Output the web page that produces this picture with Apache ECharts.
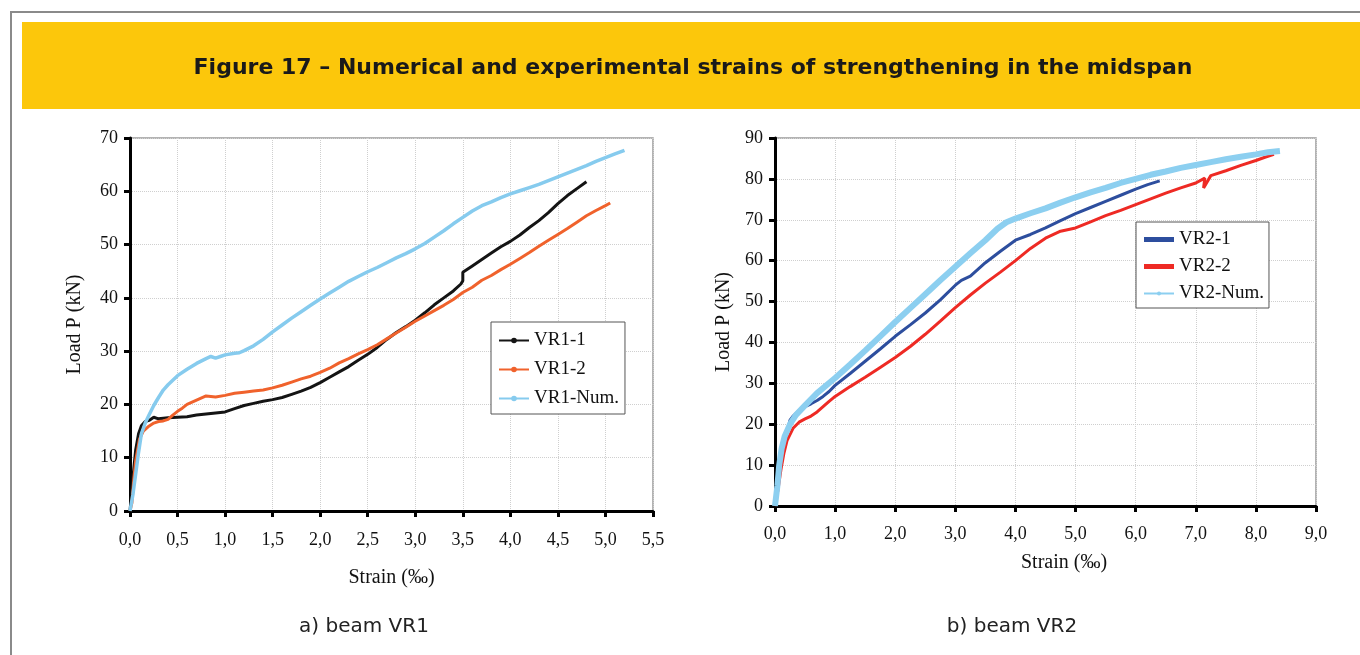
<!DOCTYPE html>
<html>
<head>
<meta charset="utf-8">
<script src="https://cdn.jsdelivr.net/npm/echarts@6/dist/echarts.min.js"></script>
<style>html,body{margin:0;padding:0;background:#fff;}#c{width:1360px;height:655px;}</style>
</head>
<body>
<div id="c"></div>
<script>
// ---------- DATA ----------
const titleText = 'Figure 17 – Numerical and experimental strains of strengthening in the midspan';
const subA = 'a) beam VR1';
const subB = 'b) beam VR2';
const xTicksA = ['0,0','0,5','1,0','1,5','2,0','2,5','3,0','3,5','4,0','4,5','5,0','5,5'];
const xTicksB = ['0,0','1,0','2,0','3,0','4,0','5,0','6,0','7,0','8,0','9,0'];
const seriesNamesA = ['VR1-1','VR1-2','VR1-Num.'];
const seriesNamesB = ['VR2-1','VR2-2','VR2-Num.'];

const vr1_1 = [[0,0],[0.02,4],[0.04,8],[0.06,11.5],[0.09,14.5],[0.12,16],[0.16,16.8],[0.2,17],[0.25,17.6],[0.3,17.3],[0.4,17.5],[0.5,17.6],[0.6,17.7],[0.7,18],[0.8,18.2],[0.9,18.4],[1.0,18.6],[1.1,19.2],[1.2,19.8],[1.3,20.2],[1.4,20.6],[1.5,20.9],[1.6,21.3],[1.7,21.9],[1.8,22.5],[1.9,23.2],[2.0,24.1],[2.1,25.1],[2.2,26.1],[2.3,27.1],[2.4,28.3],[2.5,29.4],[2.6,30.7],[2.7,32.2],[2.8,33.5],[2.9,34.6],[3.0,35.8],[3.1,37.2],[3.2,38.7],[3.3,40.0],[3.4,41.3],[3.48,42.6],[3.5,43.2],[3.5,44.8],[3.6,46],[3.7,47.2],[3.8,48.4],[3.9,49.6],[4.0,50.6],[4.1,51.8],[4.2,53.2],[4.3,54.5],[4.4,56],[4.5,57.7],[4.6,59.2],[4.7,60.5],[4.8,61.8]];
const vr1_2 = [[0,0],[0.02,1.5],[0.04,6],[0.06,9.5],[0.08,11.5],[0.1,13.5],[0.14,15],[0.19,15.8],[0.25,16.5],[0.3,16.8],[0.35,16.9],[0.4,17.2],[0.45,18],[0.5,18.7],[0.55,19.3],[0.6,20],[0.7,20.8],[0.8,21.6],[0.9,21.4],[1.0,21.7],[1.1,22.1],[1.2,22.3],[1.3,22.5],[1.4,22.7],[1.5,23.1],[1.6,23.6],[1.7,24.2],[1.8,24.8],[1.9,25.3],[2.0,26],[2.1,26.8],[2.2,27.8],[2.3,28.6],[2.4,29.5],[2.5,30.3],[2.6,31.2],[2.7,32.3],[2.8,33.4],[2.9,34.5],[3.0,35.6],[3.1,36.6],[3.2,37.6],[3.3,38.6],[3.4,39.7],[3.5,41.0],[3.6,42],[3.7,43.3],[3.8,44.2],[3.9,45.3],[4.0,46.3],[4.1,47.4],[4.2,48.5],[4.3,49.7],[4.4,50.8],[4.5,51.9],[4.6,53],[4.7,54.2],[4.8,55.4],[4.9,56.4],[5.0,57.3],[5.05,57.8]];
const vr1_num = [[0,0],[0.03,3],[0.06,7],[0.09,11],[0.12,14.5],[0.16,16.5],[0.2,18],[0.25,19.8],[0.3,21.3],[0.35,22.7],[0.4,23.7],[0.5,25.4],[0.6,26.6],[0.7,27.7],[0.8,28.6],[0.85,29],[0.9,28.7],[0.95,29],[1.0,29.3],[1.1,29.6],[1.15,29.7],[1.2,30.1],[1.3,31],[1.4,32.2],[1.5,33.6],[1.6,34.9],[1.7,36.2],[1.8,37.4],[1.9,38.6],[2.0,39.8],[2.1,40.9],[2.2,42],[2.3,43.1],[2.4,44],[2.5,44.9],[2.6,45.7],[2.7,46.6],[2.8,47.5],[2.9,48.3],[3.0,49.2],[3.1,50.2],[3.2,51.4],[3.3,52.6],[3.4,53.9],[3.5,55.1],[3.6,56.3],[3.7,57.3],[3.8,58],[3.9,58.8],[4.0,59.5],[4.1,60.1],[4.2,60.7],[4.3,61.3],[4.4,62],[4.5,62.7],[4.6,63.4],[4.7,64.1],[4.8,64.8],[4.9,65.6],[5.0,66.3],[5.1,67],[5.2,67.7]];

const vr2_1 = [[0,0],[0.05,5],[0.09,10],[0.14,14],[0.2,18],[0.25,21],[0.3,22],[0.4,23.3],[0.5,24.3],[0.6,25],[0.7,25.8],[0.8,26.8],[0.9,28],[1.0,29.5],[1.25,32.4],[1.5,35.4],[1.75,38.4],[2.0,41.5],[2.25,44.3],[2.5,47.2],[2.75,50.4],[3.0,54],[3.1,55.2],[3.25,56.2],[3.5,59.5],[3.75,62.3],[4.0,65],[4.25,66.4],[4.5,68],[4.75,69.8],[5.0,71.5],[5.25,73],[5.5,74.5],[5.75,76],[6.0,77.5],[6.2,78.6],[6.4,79.5]];
const vr2_2 = [[0,0],[0.05,4],[0.1,9],[0.15,13],[0.2,16],[0.3,19],[0.4,20.5],[0.5,21.3],[0.6,22],[0.7,23],[0.8,24.3],[0.9,25.6],[1.0,26.8],[1.25,29.2],[1.5,31.5],[1.75,33.9],[2.0,36.3],[2.25,39],[2.5,42],[2.75,45.2],[3.0,48.5],[3.25,51.6],[3.5,54.5],[3.75,57.2],[4.0,60],[4.25,63],[4.5,65.5],[4.75,67.2],[5.0,68],[5.25,69.5],[5.5,71],[5.75,72.3],[6.0,73.7],[6.25,75.1],[6.5,76.5],[6.75,77.8],[7.0,79],[7.15,80.2],[7.13,77.8],[7.25,80.8],[7.5,82],[7.75,83.3],[8.0,84.5],[8.15,85.3],[8.3,86]];
const vr2_num = [[0,0],[0.04,5],[0.07,10],[0.11,14],[0.16,17],[0.25,20],[0.35,22.3],[0.5,24.6],[0.7,27.6],[1.0,31.3],[1.25,34.6],[1.5,38],[1.75,41.5],[2.0,45],[2.25,48.4],[2.5,51.8],[2.75,55.2],[3.0,58.5],[3.25,61.8],[3.5,65],[3.7,67.8],[3.85,69.4],[4.0,70.3],[4.25,71.6],[4.5,72.8],[4.75,74.2],[5.0,75.5],[5.25,76.7],[5.5,77.8],[5.75,79],[6.0,80],[6.25,81],[6.5,81.8],[6.75,82.7],[7.0,83.4],[7.25,84.1],[7.5,84.8],[7.75,85.4],[8.0,86],[8.2,86.5],[8.4,86.8]];

// ---------- CHART ----------
const serif = '"Liberation Serif","Times New Roman",serif';
const chart = echarts.init(document.getElementById('c'), null, {renderer: 'canvas'});

function xAxisCfg(gi, max, interval, ticks, nameGap, namePad, labelMargin) {
  return {
    gridIndex: gi, type: 'value', min: 0, max: max, interval: interval,
    name: 'Strain (‰)', nameLocation: 'middle', nameGap: nameGap,
    nameTextStyle: {fontFamily: serif, fontSize: 20, color: '#111', padding: namePad},
    axisLine: {show: true, onZero: false, lineStyle: {color: '#000', width: 3}},
    axisTick: {show: true, inside: false, length: 6, lineStyle: {color: '#000', width: 3}},
    axisLabel: {fontFamily: serif, fontSize: 18, color: '#111', margin: labelMargin,
      formatter: v => ticks[Math.round(v / interval)]},
    splitLine: {show: true, lineStyle: {color: '#cfcfcf', type: 'dotted', width: 1}}
  };
}
function yAxisCfg(gi, max, nameGap) {
  return {
    gridIndex: gi, type: 'value', min: 0, max: max, interval: 10,
    name: 'Load P (kN)', nameLocation: 'middle', nameGap: nameGap,
    nameTextStyle: {fontFamily: serif, fontSize: 20, color: '#111'},
    axisLine: {show: true, onZero: false, lineStyle: {color: '#000', width: 3}},
    axisTick: {show: true, inside: false, length: 6, lineStyle: {color: '#000', width: 3}},
    axisLabel: {fontFamily: serif, fontSize: 18, color: '#111', margin: 12},
    splitLine: {show: true, lineStyle: {color: '#cfcfcf', type: 'dotted', width: 1}}
  };
}
function lineSeries(name, data, gi, color, width, symbol) {
  return {
    name: name, type: 'line', xAxisIndex: gi, yAxisIndex: gi, data: data,
    showSymbol: false, symbol: symbol, symbolSize: 5, smooth: false,
    lineStyle: {color: color, width: width}, itemStyle: {color: color},
    emphasis: {disabled: true}, animation: false
  };
}

const option = {
  animation: false,
  backgroundColor: '#fff',
  graphic: [
    {type: 'rect', z: -10, shape: {x: 11, y: 12, width: 1400, height: 700}, style: {fill: 'none', stroke: '#8a8a8a', lineWidth: 2}},
    {type: 'rect', z: -9, shape: {x: 22, y: 22, width: 1400, height: 87}, style: {fill: '#FCC70B'}},
    {type: 'text', z: 10, x: 693, y: 68, style: {text: titleText, align: 'center', verticalAlign: 'middle', font: 'bold 22px "DejaVu Sans"', fill: '#1a1a1a'}},
    {type: 'text', z: 10, x: 364, y: 627, style: {text: subA, align: 'center', verticalAlign: 'middle', font: '20px "DejaVu Sans"', fill: '#222'}},
    {type: 'text', z: 10, x: 1012, y: 627, style: {text: subB, align: 'center', verticalAlign: 'middle', font: '20px "DejaVu Sans"', fill: '#222'}}
  ],
  grid: [
    {left: 130, top: 138, right: 707, bottom: 144, show: true, borderColor: '#9a9a9a', borderWidth: 1.5, backgroundColor: 'transparent'},
    {left: 775, top: 138, right: 44, bottom: 149, show: true, borderColor: '#9a9a9a', borderWidth: 1.5, backgroundColor: 'transparent'}
  ],
  xAxis: [
    xAxisCfg(0, 5.5, 0.5, xTicksA, 57, [0, 0, 0, 0], 20),
    xAxisCfg(1, 9, 1, xTicksB, 47, [0, 0, 0, 37], 19)
  ],
  yAxis: [yAxisCfg(0, 70, 45), yAxisCfg(1, 90, 41)],
  legend: [
    {
      left: 491, top: 322, orient: 'vertical', itemWidth: 30, itemHeight: 7, itemGap: 10,
      padding: [9, 6, 6, 7], backgroundColor: '#fff', borderColor: '#555', borderWidth: 1,
      textStyle: {fontFamily: serif, fontSize: 19, color: '#111', lineHeight: 19},
      data: seriesNamesA, selectedMode: false
    },
    {
      left: 1136, top: 222, orient: 'vertical', itemWidth: 30, itemHeight: 5, itemGap: 8,
      padding: [8, 5, 5, 7], backgroundColor: '#fff', borderColor: '#555', borderWidth: 1,
      textStyle: {fontFamily: serif, fontSize: 19, color: '#111', lineHeight: 19},
      data: [{name: seriesNamesB[0], icon: 'rect'}, {name: seriesNamesB[1], icon: 'rect'}, {name: seriesNamesB[2], lineStyle: {width: 2}}],
      selectedMode: false
    }
  ],
  series: [
    lineSeries(seriesNamesA[0], vr1_1, 0, '#141414', 3, 'circle'),
    lineSeries(seriesNamesA[1], vr1_2, 0, '#F0622C', 3, 'circle'),
    lineSeries(seriesNamesA[2], vr1_num, 0, '#86CBEE', 3.5, 'circle'),
    lineSeries(seriesNamesB[0], vr2_1, 1, '#2D4E9E', 3, 'none'),
    lineSeries(seriesNamesB[1], vr2_2, 1, '#EE2A24', 3, 'none'),
    lineSeries(seriesNamesB[2], vr2_num, 1, '#8CCFF0', 6, 'circle')
  ]
};
chart.setOption(option);
</script>
</body>
</html>
